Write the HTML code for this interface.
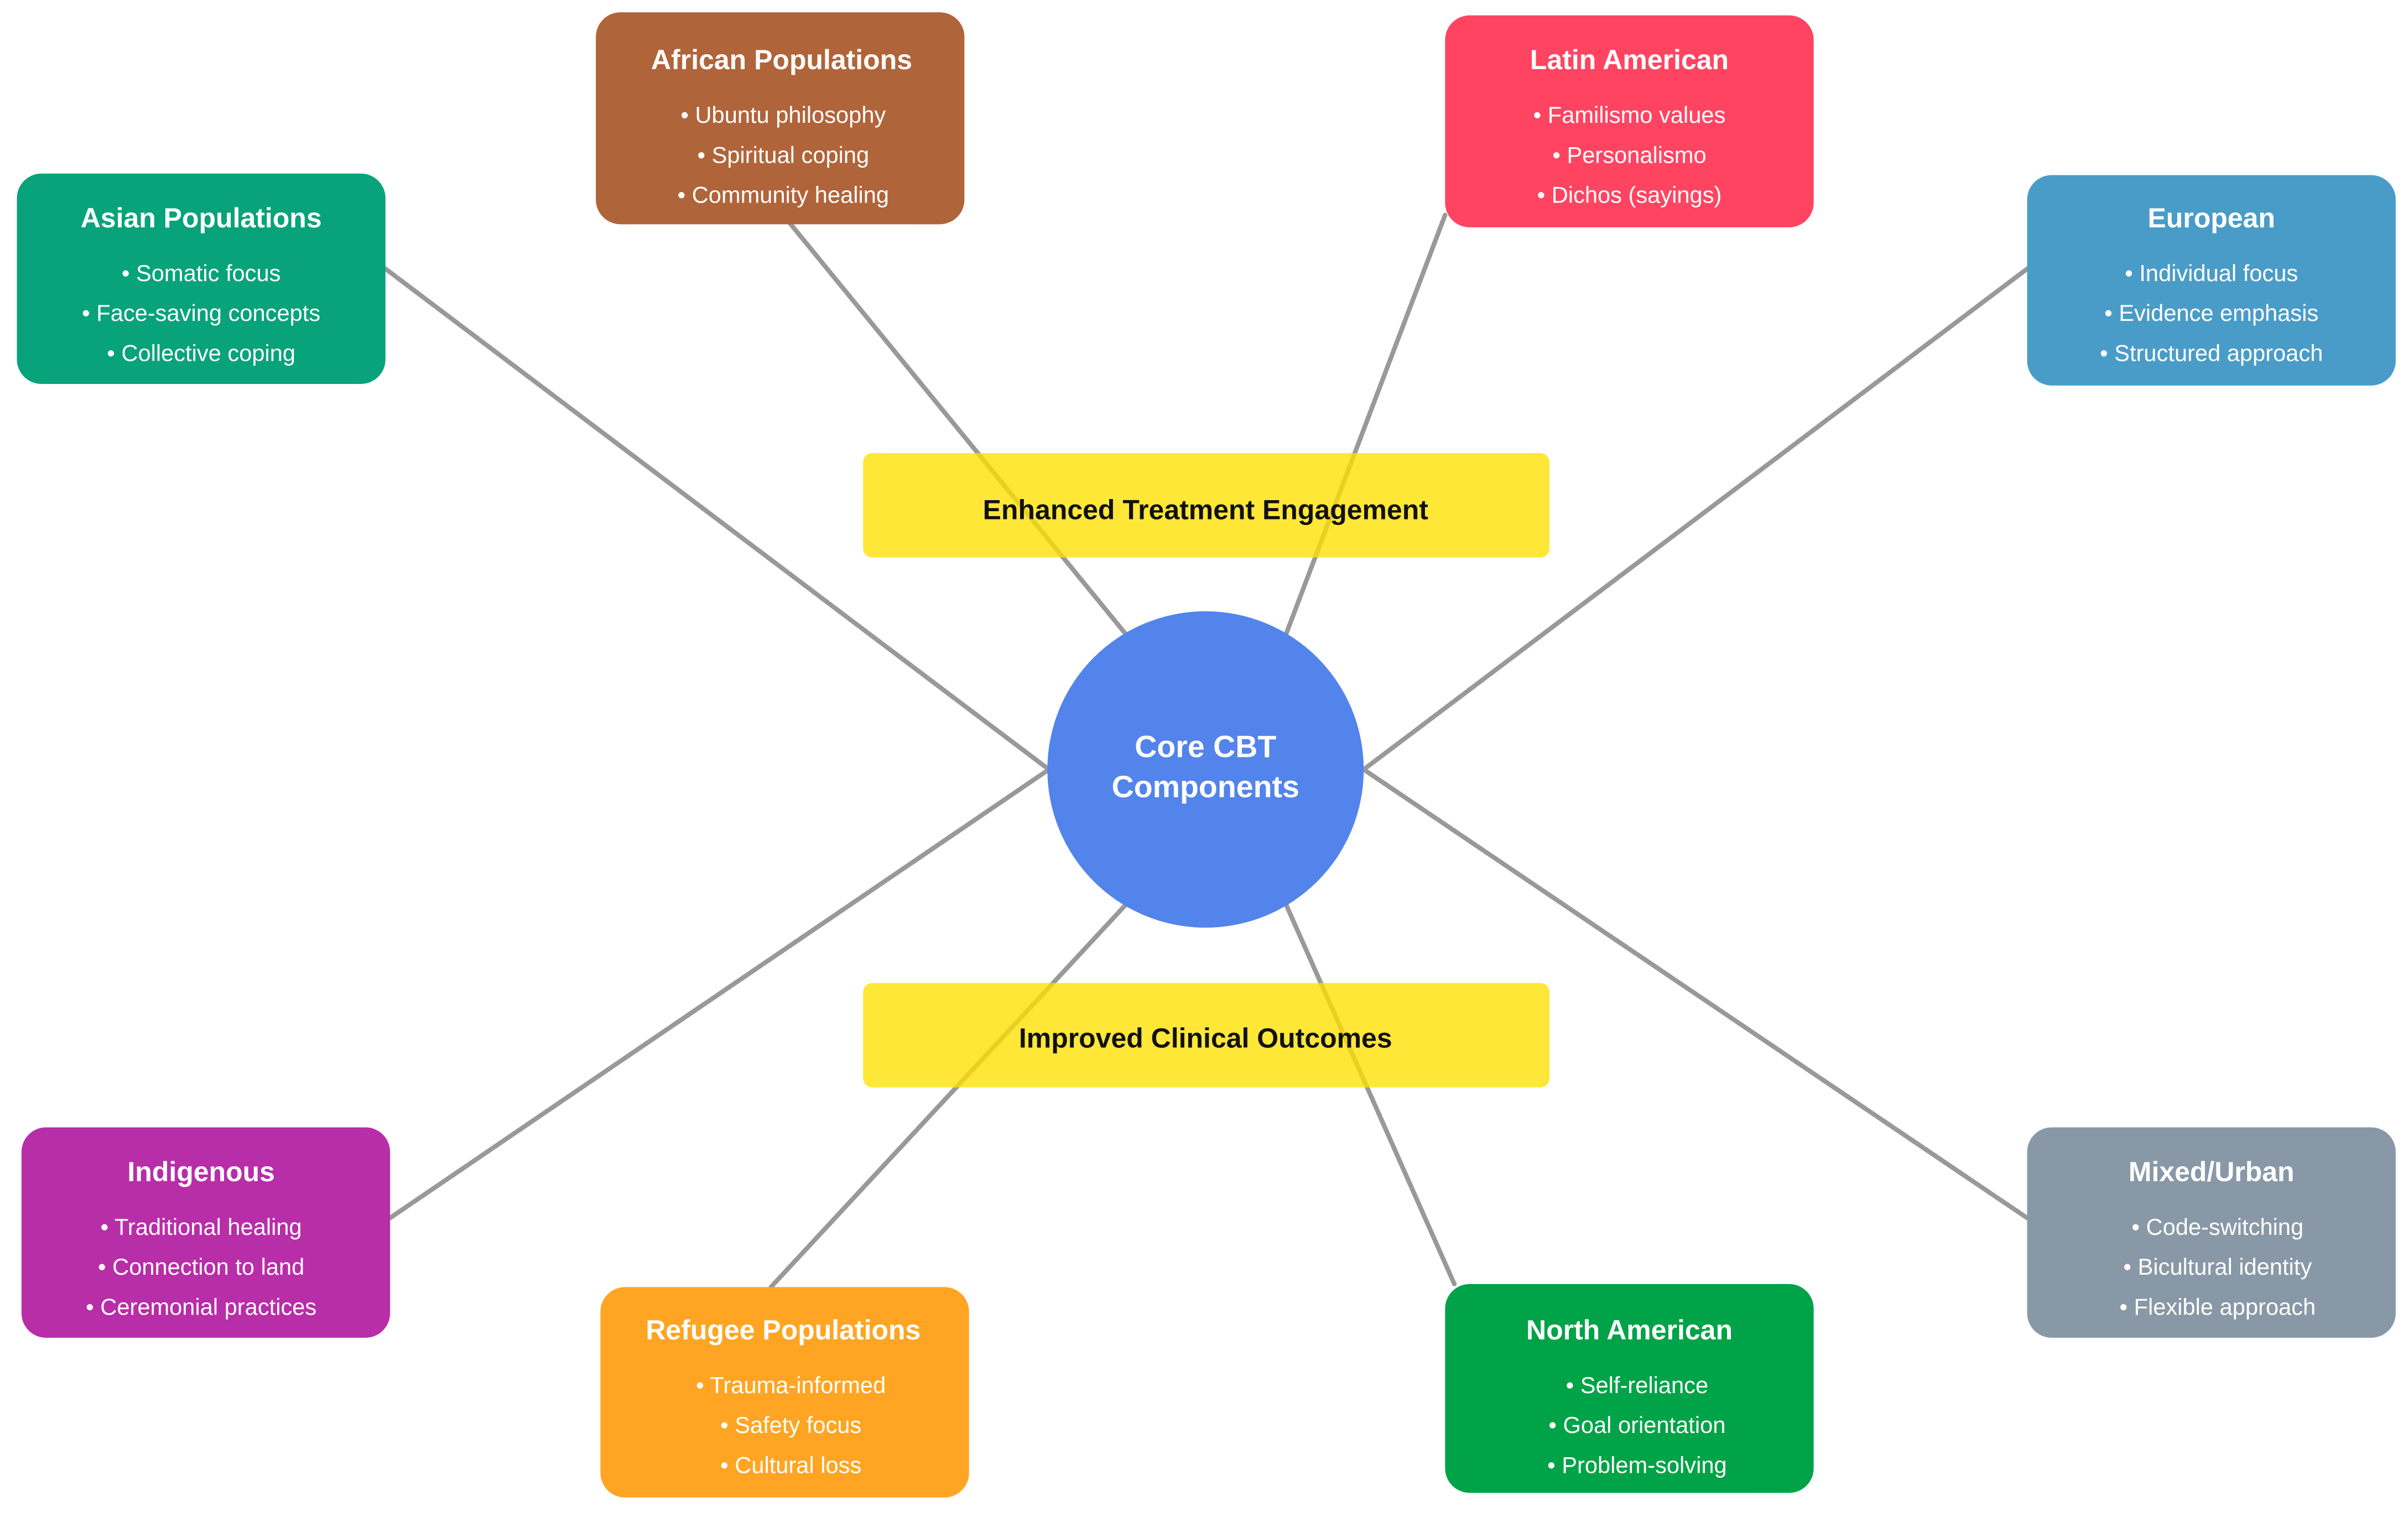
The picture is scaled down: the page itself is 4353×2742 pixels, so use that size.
<!DOCTYPE html>
<html><head><meta charset="utf-8"><style>html,body{margin:0;padding:0;background:#fff}svg{display:block}</style></head>
<body>
<svg width="4353" height="2742" viewBox="0 0 1568 987.7" preserveAspectRatio="none" xmlns="http://www.w3.org/2000/svg" font-family="Liberation Sans, Arial, sans-serif">
<rect width="1568" height="988" fill="#fff"/>
<g stroke="#999" stroke-width="3" stroke-linecap="round">
<line x1="251" y1="175" x2="683" y2="501"/>
<line x1="510" y1="140" x2="734" y2="414"/>
<line x1="941" y1="140" x2="837" y2="414"/>
<line x1="1320" y1="175" x2="888" y2="501"/>
<line x1="254" y1="793" x2="683" y2="501"/>
<line x1="502" y1="838" x2="734" y2="588"/>
<line x1="947" y1="836" x2="837" y2="588"/>
<line x1="1320" y1="793" x2="888" y2="501"/>
</g>
<g fill="#FFE000" fill-opacity="0.78">
<rect x="562" y="295" width="447" height="68" rx="6"/>
<rect x="562" y="640" width="447" height="68" rx="6"/>
</g>
<g font-weight="bold" font-size="18" text-anchor="middle" fill="#111">
<text x="785" y="338">Enhanced Treatment Engagement</text>
<text x="785" y="682">Improved Clinical Outcomes</text>
</g>
<circle cx="785" cy="501" r="103" fill="#5284EB"/>
<g font-weight="bold" font-size="20" text-anchor="middle" fill="#fff">
<text x="785" y="493">Core CBT</text>
<text x="785" y="519">Components</text>
</g>
<g text-anchor="middle" fill="#fff">
<g transform="translate(388,8)"><rect width="240" height="138" rx="16" fill="#B0643A"/><text x="121" y="37" font-size="18" font-weight="bold">African Populations</text><text x="122" y="72" font-size="15">• Ubuntu philosophy</text><text x="122" y="98" font-size="15">• Spiritual coping</text><text x="122" y="124" font-size="15">• Community healing</text></g>
<g transform="translate(941,10)"><rect width="240" height="138" rx="16" fill="#FF4461"/><text x="120" y="35" font-size="18" font-weight="bold">Latin American</text><text x="120" y="70" font-size="15">• Familismo values</text><text x="120" y="96" font-size="15">• Personalismo</text><text x="120" y="122" font-size="15">• Dichos (sayings)</text></g>
<g transform="translate(11,113)"><rect width="240" height="137" rx="16" fill="#08A37A"/><text x="120" y="35" font-size="18" font-weight="bold">Asian Populations</text><text x="120" y="70" font-size="15">• Somatic focus</text><text x="120" y="96" font-size="15">• Face-saving concepts</text><text x="120" y="122" font-size="15">• Collective coping</text></g>
<g transform="translate(1320,114)"><rect width="240" height="137" rx="16" fill="#4A9CC8"/><text x="120" y="34" font-size="18" font-weight="bold">European</text><text x="120" y="69" font-size="15">• Individual focus</text><text x="120" y="95" font-size="15">• Evidence emphasis</text><text x="120" y="121" font-size="15">• Structured approach</text></g>
<g transform="translate(14,734)"><rect width="240" height="137" rx="16" fill="#B82DA8"/><text x="117" y="35" font-size="18" font-weight="bold">Indigenous</text><text x="117" y="70" font-size="15">• Traditional healing</text><text x="117" y="96" font-size="15">• Connection to land</text><text x="117" y="122" font-size="15">• Ceremonial practices</text></g>
<g transform="translate(391,838)"><rect width="240" height="137" rx="16" fill="#FFA523"/><text x="119" y="34" font-size="18" font-weight="bold">Refugee Populations</text><text x="124" y="69" font-size="15">• Trauma-informed</text><text x="124" y="95" font-size="15">• Safety focus</text><text x="124" y="121" font-size="15">• Cultural loss</text></g>
<g transform="translate(941,836)"><rect width="240" height="136" rx="16" fill="#00A347"/><text x="120" y="36" font-size="18" font-weight="bold">North American</text><text x="125" y="71" font-size="15">• Self-reliance</text><text x="125" y="97" font-size="15">• Goal orientation</text><text x="125" y="123" font-size="15">• Problem-solving</text></g>
<g transform="translate(1320,734)"><rect width="240" height="137" rx="16" fill="#8898A6"/><text x="120" y="35" font-size="18" font-weight="bold">Mixed/Urban</text><text x="124" y="70" font-size="15">• Code-switching</text><text x="124" y="96" font-size="15">• Bicultural identity</text><text x="124" y="122" font-size="15">• Flexible approach</text></g>
</g>
</svg>
</body></html>
